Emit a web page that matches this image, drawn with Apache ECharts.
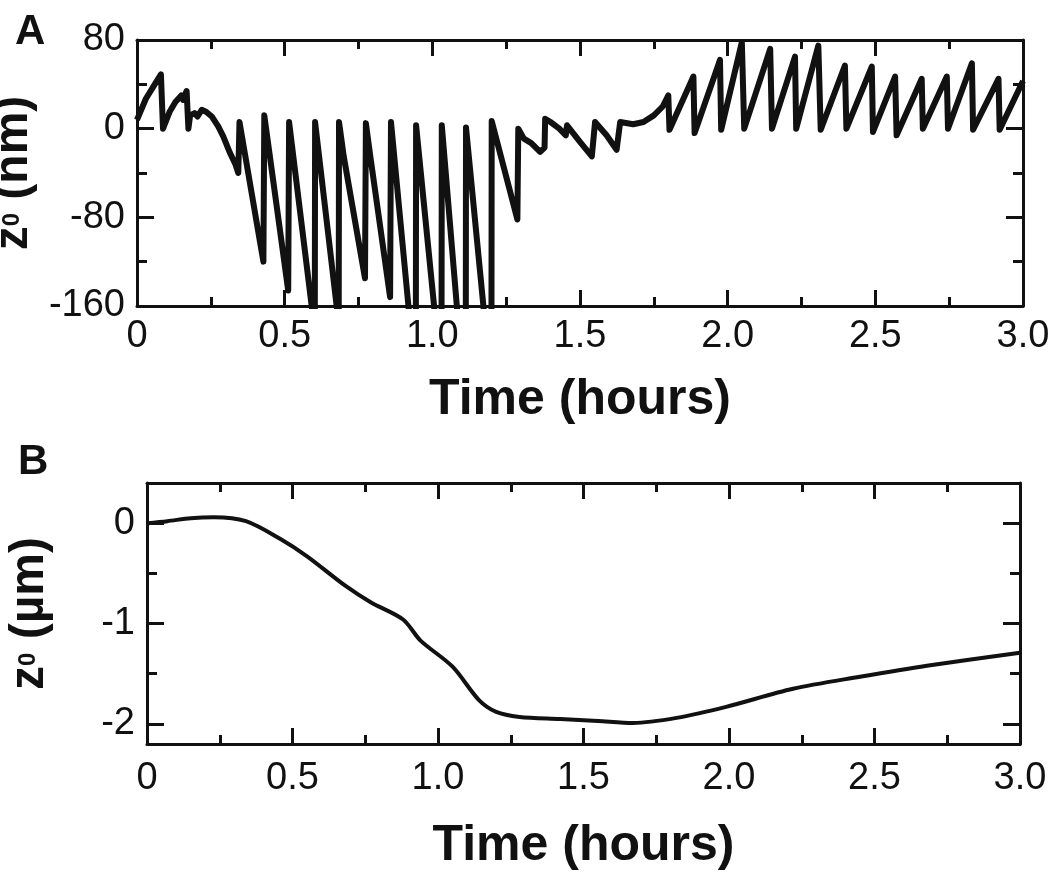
<!DOCTYPE html>
<html>
<head>
<meta charset="utf-8">
<title>z0 vs time</title>
<script src="https://cdn.jsdelivr.net/npm/echarts@6/dist/echarts.min.js"></script>
<style>
    html, body { margin: 0; padding: 0; background: #fff; }
    #chart { width: 1050px; height: 883px; }
</style>
</head>
<body>
<div id="chart"></div>
<script>
// panel A - sawtooth trace (nm)
const timeA = [
    0.000, 0.030, 0.060, 0.081, 0.088, 0.110, 0.130, 0.150, 0.156, 0.168,
    0.174, 0.180, 0.195, 0.205, 0.219, 0.235, 0.253, 0.275, 0.292, 0.315,
    0.333, 0.343, 0.347, 0.428, 0.431, 0.512, 0.515, 0.602, 0.603, 0.683,
    0.684, 0.700, 0.772, 0.775, 0.790, 0.857, 0.860, 0.944, 0.945, 1.031,
    1.032, 1.113, 1.114, 1.200, 1.201, 1.288, 1.291, 1.310, 1.335, 1.365,
    1.380, 1.382, 1.400, 1.430, 1.452, 1.456, 1.500, 1.540, 1.551, 1.590,
    1.624, 1.636, 1.680, 1.715, 1.750, 1.780, 1.799, 1.803, 1.884, 1.888,
    1.974, 1.978, 2.048, 2.056, 2.144, 2.150, 2.228, 2.232, 2.307, 2.315,
    2.397, 2.402, 2.488, 2.492, 2.567, 2.572, 2.657, 2.661, 2.742, 2.746,
    2.827, 2.831, 2.917, 2.921, 3.000
];
const z0A = [
    8, 27, 40, 49, 0, 15, 24, 30, 26, 34,
    0, 12, 14, 11, 17, 15, 11, 2, -7, -22,
    -32, -40, 6, -120, 12, -146, 6, -183, 6, -176,
    6, -25, -135, 5, -25, -152, 6, -230, 3, -227,
    3, -256, 1, -234, 7, -82, 0, -9, -13, -21,
    -17, 9, 6, 0, -6, 3, -12, -25, 6, -6,
    -19, 6, 4, 6, 12, 20, 30, -1, 47, -4,
    62, -1, 78, 0, 72, 0, 65, 0, 75, -1,
    57, 0, 56, -3, 47, -6, 45, 0, 47, 0,
    59, -1, 45, -1, 43
];

// panel B - slow drift (µm)
const timeB = [
    0.00, 0.07, 0.15, 0.23, 0.34, 0.46, 0.55, 0.68, 0.77, 0.88,
    0.94, 1.05, 1.14, 1.20, 1.28, 1.42, 1.55, 1.67, 1.82, 1.99,
    2.22, 2.45, 2.68, 3.00
];
const z0B = [
    0.00, 0.02, 0.05, 0.06, 0.02, -0.16, -0.33, -0.62, -0.79, -0.96,
    -1.17, -1.43, -1.76, -1.88, -1.93, -1.95, -1.97, -1.99, -1.94, -1.83,
    -1.65, -1.53, -1.42, -1.29
];

// y ticks of panel B (range does not start on a tick)
const bMajorTicks = [-2, -1, 0];
const bMinorTicks = [-1.5, -0.5];

const font = '"Liberation Sans", Arial, Helvetica, sans-serif';
const ink = '#111';
const tickStyle = { color: ink, width: 3 };

const chart = echarts.init(document.getElementById('chart'));

const timeLabel = v => (v === 0 ? '0' : v.toFixed(1));

const nameStyle = {
    color: ink,
    fontFamily: font,
    fontWeight: 'bold',
    fontSize: 50
};
const zNameStyle = {
    color: ink,
    fontFamily: font,
    fontWeight: 'bold',
    rich: {
        z: { fontSize: 48, fontWeight: 'bold', fontFamily: font, color: ink, lineHeight: 48, verticalAlign: 'middle' },
        s: { fontSize: 24, fontWeight: 'bold', fontFamily: font, color: ink, verticalAlign: 'middle', padding: [0, 0, 4, 0] },
        u: { fontSize: 48, fontWeight: 'bold', fontFamily: font, color: ink, lineHeight: 48, verticalAlign: 'middle' }
    }
};

// time axis, both panels, bottom (labels) or top (ticks only)
function timeAxis(gridIndex, position, withLabels, nameGap, labelMargin) {
    return {
        gridIndex: gridIndex,
        type: 'value',
        position: position,
        min: 0,
        max: 3,
        interval: 0.5,
        axisLine: { onZero: false, lineStyle: { color: ink, width: 3 } },
        axisTick: { inside: true, length: 16, lineStyle: tickStyle },
        minorTick: { show: true, splitNumber: 2, length: 9, lineStyle: tickStyle },
        splitLine: { show: false },
        axisLabel: {
            show: withLabels,
            fontSize: 38,
            color: ink,
            fontFamily: font,
            margin: labelMargin,
            formatter: timeLabel
        },
        name: withLabels ? 'Time (hours)' : '',
        nameLocation: 'middle',
        nameGap: nameGap,
        nameTextStyle: nameStyle
    };
}

const option = {
    animation: false,
    backgroundColor: '#fff',
    grid: [
        { left: 137, top: 40, width: 886, height: 266, outerBoundsMode: 'none' },
        { left: 147, top: 483, width: 873, height: 261, outerBoundsMode: 'none' },
        { left: 147, top: 483, width: 873, height: 261, outerBoundsMode: 'none' }
    ],
    graphic: [
        { type: 'text', left: 15, top: 11, style: { text: 'A', fontSize: 42, fontWeight: 'bold', fontFamily: font, fill: ink } },
        { type: 'text', left: 18, top: 441, style: { text: 'B', fontSize: 42, fontWeight: 'bold', fontFamily: font, fill: ink } }
    ],
    xAxis: [
        timeAxis(0, 'bottom', true, 69, 12),
        timeAxis(0, 'top', false, 0, 0),
        timeAxis(1, 'bottom', true, 77, 16),
        timeAxis(1, 'top', false, 0, 0),
        { gridIndex: 2, type: 'value', min: 0, max: 3, show: false }
    ],
    yAxis: [
        {
            gridIndex: 0,
            type: 'value',
            position: 'left',
            min: -160,
            max: 80,
            interval: 80,
            axisLine: { onZero: false, lineStyle: { color: ink, width: 3 } },
            axisTick: { inside: true, length: 17, lineStyle: tickStyle },
            minorTick: { show: true, splitNumber: 2, length: 10, lineStyle: tickStyle },
            splitLine: { show: false },
            axisLabel: { fontSize: 38, color: ink, fontFamily: font, margin: 12 },
            name: '{z|z}{s|0}{u| (nm)}',
            nameLocation: 'middle',
            nameRotate: 90,
            nameGap: 82,
            nameTextStyle: zNameStyle
        },
        {
            gridIndex: 0,
            type: 'value',
            position: 'right',
            min: -160,
            max: 80,
            interval: 80,
            axisLine: { onZero: false, lineStyle: { color: ink, width: 3 } },
            axisTick: { inside: true, length: 17, lineStyle: tickStyle },
            minorTick: { show: true, splitNumber: 2, length: 10, lineStyle: tickStyle },
            splitLine: { show: false },
            axisLabel: { show: false }
        },
        {
            gridIndex: 1,
            type: 'value',
            position: 'left',
            min: -2.2,
            max: 0.4,
            axisLine: { onZero: false, lineStyle: { color: ink, width: 3 } },
            axisTick: { inside: true, length: 17, lineStyle: tickStyle, customValues: bMajorTicks },
            splitLine: { show: false },
            axisLabel: { fontSize: 38, color: ink, fontFamily: font, margin: 12, customValues: bMajorTicks },
            name: '{z|z}{s|0}{u| (µm)}',
            nameLocation: 'middle',
            nameRotate: 90,
            nameGap: 93,
            nameTextStyle: zNameStyle
        },
        {
            gridIndex: 1,
            type: 'value',
            position: 'right',
            min: -2.2,
            max: 0.4,
            axisLine: { onZero: false, lineStyle: { color: ink, width: 3 } },
            axisTick: { inside: true, length: 17, lineStyle: tickStyle, customValues: bMajorTicks },
            splitLine: { show: false },
            axisLabel: { show: false }
        },
        // short ticks of panel B live on an overlapping grid
        {
            gridIndex: 2,
            type: 'value',
            position: 'left',
            min: -2.2,
            max: 0.4,
            axisLine: { show: false, onZero: false },
            axisTick: { inside: true, length: 10, lineStyle: tickStyle, customValues: bMinorTicks },
            splitLine: { show: false },
            axisLabel: { show: false }
        },
        {
            gridIndex: 2,
            type: 'value',
            position: 'right',
            min: -2.2,
            max: 0.4,
            axisLine: { show: false, onZero: false },
            axisTick: { inside: true, length: 10, lineStyle: tickStyle, customValues: bMinorTicks },
            splitLine: { show: false },
            axisLabel: { show: false }
        }
    ],
    series: [
        {
            type: 'line',
            xAxisIndex: 0,
            yAxisIndex: 0,
            data: timeA.map((t, i) => [t, z0A[i]]),
            showSymbol: false,
            clip: true,
            lineStyle: { color: ink, width: 6, join: 'round' }
        },
        {
            type: 'line',
            xAxisIndex: 2,
            yAxisIndex: 2,
            data: timeB.map((t, i) => [t, z0B[i]]),
            showSymbol: false,
            smooth: 0.3,
            lineStyle: { color: ink, width: 4, join: 'round' }
        }
    ]
};

chart.setOption(option);
</script>
</body>
</html>
